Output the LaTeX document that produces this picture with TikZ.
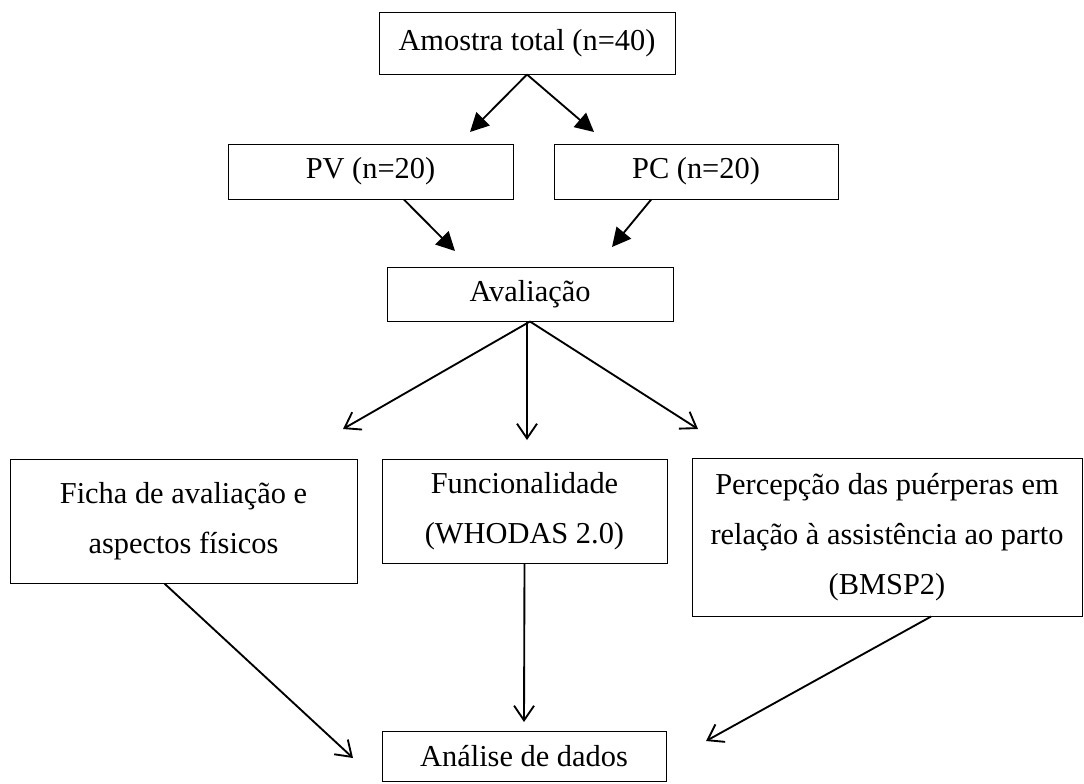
\documentclass[tikz,border=0pt]{standalone}
\usepackage{fontspec}
\setmainfont{Liberation Serif}
\usetikzlibrary{arrows.meta}

\begin{document}
\begin{tikzpicture}[x=0.75pt,y=-0.75pt,
  caixa/.style={draw, line width=0.75pt, align=center, inner sep=0pt,
    font=\fontsize{22.8}{37.5}\selectfont},
  setacheia/.style={line width=1.4pt, -{Triangle[length=14pt,width=14pt]}},
  setaaberta/.style={line width=1.4pt, -{Straight Barb[length=11pt,width=15pt]}}]

\useasboundingbox (0,0) rectangle (1084,783);

\node[caixa, minimum width=222pt, minimum height=46.5pt] (amostra) at (527,43) {Amostra total (n=40)};
\node[caixa, minimum width=213.75pt, minimum height=41.25pt] (pv) at (370.5,171.5) {PV (n=20)};
\node[caixa, minimum width=213pt, minimum height=41.25pt] (pc) at (696,171.5) {PC (n=20)};
\node[caixa, minimum width=214.5pt, minimum height=40.5pt] (aval) at (530,294) {Avaliação};

\node[caixa, minimum width=260.25pt, minimum height=93pt] (ficha) at (183.5,521) {Ficha de avaliação e\\aspectos físicos};
\node[caixa, minimum width=213.75pt, minimum height=78pt] (func) at (524.5,511) {Funcionalidade\\(WHODAS 2.0)};
\node[caixa, minimum width=292.5pt, minimum height=118.5pt] (perc) at (887,537) {Percepção das puérperas em\\relação à assistência ao parto\\(BMSP2)};
\node[caixa, minimum width=213pt, minimum height=37.5pt] (analise) at (524,756) {Análise de dados};

\coordinate (pvtip) at (470,132);
\coordinate (pctip) at (594,132);
\coordinate (avaltipl) at (455,251);
\coordinate (avaltipr) at (612,247);
\coordinate (fichatip) at (343,429);
\coordinate (functip) at (527,440);
\coordinate (perctip) at (698,429);
\coordinate (analtipl) at (353,758);
\coordinate (analtipm) at (524,722);
\coordinate (analtipr) at (706,741);

\draw[setacheia] (amostra.south) -- (pvtip);
\draw[setacheia] (amostra.south) -- (pctip);
\draw[setacheia] (pv.-40) -- (avaltipl);
\draw[setacheia] (pc.-148) -- (avaltipr);

\draw[setaaberta] (aval.south) -- (fichatip);
\draw[setaaberta] (aval.south -| functip) -- (functip);
\draw[setaaberta] (aval.south) -- (perctip);

\draw[setaaberta] (ficha.-107) -- (analtipl);
\draw[setaaberta] (func.south) -- (analtipm);
\draw[setaaberta] (perc.-61) -- (analtipr);
\end{tikzpicture}
\end{document}
